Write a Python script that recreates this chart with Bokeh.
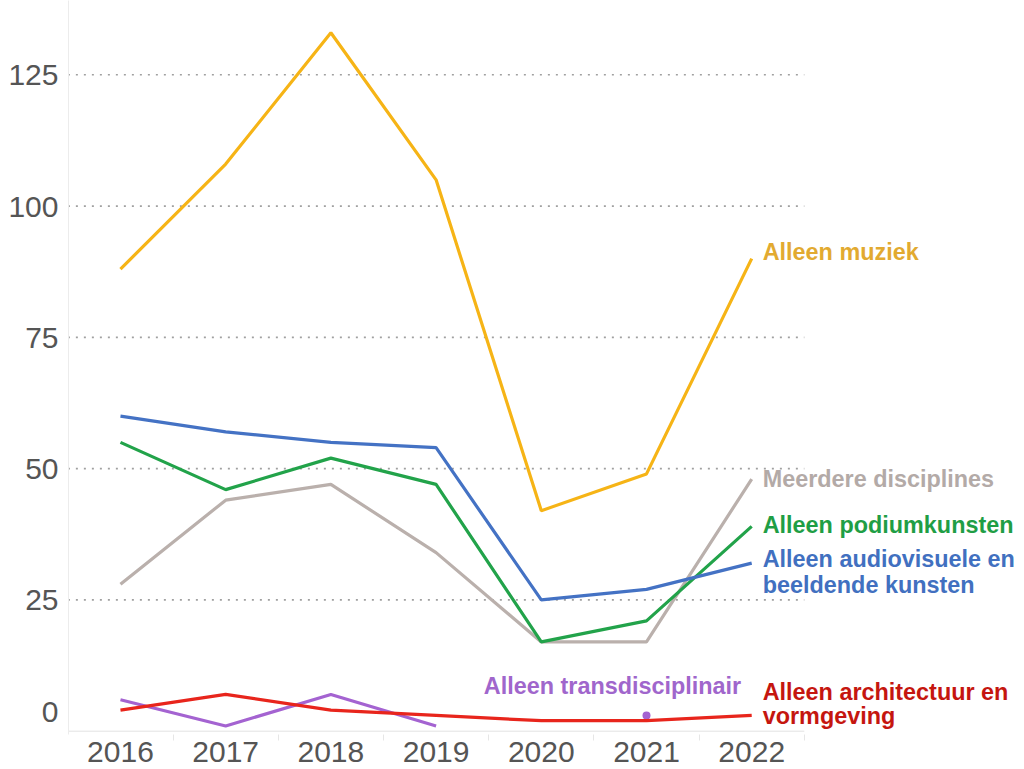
import math
from bokeh.plotting import figure
from bokeh.models import FixedTicker, Range1d
from bokeh.core.properties import value
from bokeh.embed import file_html
from bokeh.resources import INLINE

nan = float("nan")

# ---- data ----
years = [2016, 2017, 2018, 2019, 2020, 2021, 2022]
muziek = [88, 108, 133, 105, 42, 49, 90]
audiovisueel = [60, 57, 55, 54, 25, 27, 32]
podium = [55, 46, 52, 47, 17, 21, 39]
meerdere = [28, 44, 47, 34, 17, 17, 48]
architectuur = [4, 7, 4, 3, 2, 2, 3]
transdisciplinair = [6, 1, 7, 1, nan, 3, nan]
y_ticks = [0, 25, 50, 75, 100, 125]
grid_values = [25, 50, 75, 100, 125]

# ---- styling per series (drawing order: first = bottom) ----
series = [
    dict(vals=transdisciplinair, line="#a463d1", lab="#a066cc",
         text=["Alleen transdisciplinair"], align="center", dx=-34, dy=[-29]),
    dict(vals=architectuur, line="#e8251c", lab="#c5160f",
         text=["Alleen architectuur en", "vormgeving"], align="left", dx=11, dy=[-23, 1]),
    dict(vals=meerdere, line="#bab0ac", lab="#b3aaa7",
         text=["Meerdere disciplines"], align="left", dx=11, dy=[0]),
    dict(vals=podium, line="#22a34a", lab="#1f9e45",
         text=["Alleen podiumkunsten"], align="left", dx=11, dy=[-1]),
    dict(vals=audiovisueel, line="#4472c4", lab="#4170c0",
         text=["Alleen audiovisuele en", "beeldende kunsten"], align="left", dx=11, dy=[-4, 22]),
    dict(vals=muziek, line="#f6b416", lab="#e2aa30",
         text=["Alleen muziek"], align="left", dx=11, dy=[-7]),
]

x_lo = years[0] - 0.5
x_hi = years[-1] + 0.5

p = figure(width=1024, height=769,
           x_range=Range1d(2015.506, 2024.593), y_range=Range1d(-0.63, 139.15),
           output_backend="svg", toolbar_location=None,
           min_border_left=68, min_border_right=0, min_border_top=0, min_border_bottom=35)
p.outline_line_color = None
p.xgrid.visible = False
p.ygrid.visible = False
p.background_fill_color = "white"
p.border_fill_color = "white"

# dotted horizontal grid lines, only over the year bands
p.segment(x0=[x_lo] * len(grid_values), y0=grid_values,
          x1=[x_hi] * len(grid_values), y1=grid_values,
          line_color="#a0a0a0", line_width=1.6, line_dash="2 6")
# faint baseline
p.segment(x0=[x_lo], y0=[0], x1=[x_hi], y1=[0], line_color="#e2e2e2", line_width=1)

for s in series:
    vals = s["vals"]
    p.line(years, vals, line_color=s["line"], line_width=3.2)
    # isolated points (no neighbours) drawn as dots
    iso_x, iso_y = [], []
    for i, v in enumerate(vals):
        if math.isnan(v):
            continue
        prev_nan = i == 0 or math.isnan(vals[i - 1])
        next_nan = i == len(vals) - 1 or math.isnan(vals[i + 1])
        if prev_nan and next_nan:
            iso_x.append(years[i]); iso_y.append(v)
    if iso_x:
        p.scatter(iso_x, iso_y, size=8, fill_color=s["line"], line_color=None)

# labels anchored to each series' last value
for s in series:
    vals = s["vals"]
    last = max(i for i, v in enumerate(vals) if not math.isnan(v))
    for line_text, dy in zip(s["text"], s["dy"]):
        p.text(x=[years[last]], y=[vals[last]], text=[line_text],
               x_offset=s["dx"], y_offset=dy,
               text_font=value("Liberation Sans"), text_font_style="bold",
               text_font_size="23.4px", text_color=s["lab"],
               text_align=s["align"], text_baseline="middle")

# axes
p.yaxis.ticker = FixedTicker(ticks=y_ticks)
# the zero label sits just above the baseline, as in the reference
p.yaxis.major_label_overrides = {0: "0\n "}
p.yaxis.axis_line_color = "#ececec"
p.yaxis.major_tick_line_color = None
p.yaxis.major_tick_out = 0
p.yaxis.minor_tick_line_color = None
p.yaxis.major_label_text_font = "Liberation Sans"
p.yaxis.major_label_text_font_size = "30px"
p.yaxis.major_label_text_color = "#555555"
p.yaxis.major_label_standoff = 10

p.xaxis.ticker = FixedTicker(ticks=years, minor_ticks=[y - 0.5 for y in years] + [x_hi])
p.xaxis.axis_line_color = None
p.xaxis.major_tick_line_color = None
p.xaxis.major_tick_out = 0
p.xaxis.minor_tick_line_color = "#e6e6e6"
p.xaxis.minor_tick_in = 0
p.xaxis.minor_tick_out = 6
p.xaxis.major_label_text_font = "Liberation Sans"
p.xaxis.major_label_text_font_size = "30px"
p.xaxis.major_label_text_color = "#555555"
p.xaxis.major_label_standoff = 1

open("out.html", "w").write(file_html(p, INLINE))
